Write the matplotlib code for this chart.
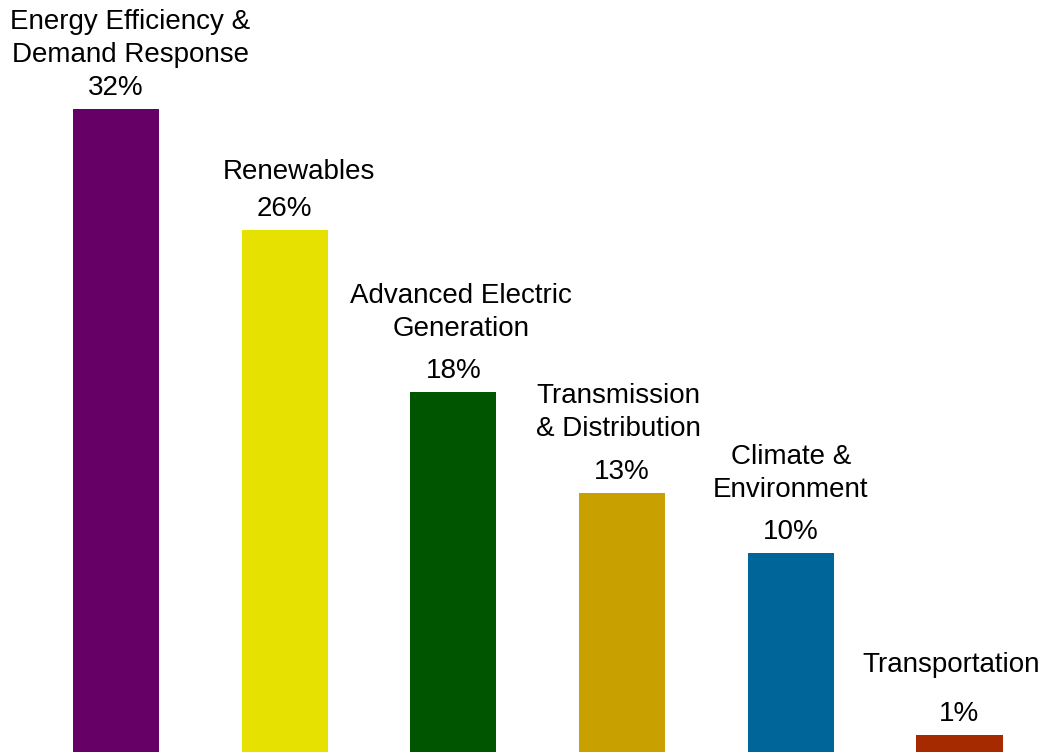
import matplotlib.pyplot as plt

plt.rcParams['font.family'] = ['Liberation Sans', 'DejaVu Sans']

categories = ['Energy Efficiency &\nDemand Response', 'Renewables',
              'Advanced Electric\nGeneration', 'Transmission\n& Distribution',
              'Climate &\nEnvironment', 'Transportation']
shares = [32, 26, 18, 13, 10, 1]
colors = ['#660066', '#E6E100', '#005500', '#C8A000', '#006699', '#A52A00']

# layout tweaks (pixels): gap between percent and category label, x nudge of category label
cat_gap = [33, 37, 42, 43, 42, 49]
cat_dx = [14, 14, 8, -4, 0, -8]


def main():
    fig = plt.figure(figsize=(10.44, 7.52), dpi=100)
    ax = fig.add_axes([0, 0, 1, 1])
    x = list(range(len(shares)))
    ax.bar(x, shares, width=0.51, color=colors)

    px = 72 / fig.dpi  # pixels -> points
    for i, (cat, v) in enumerate(zip(categories, shares)):
        ax.annotate(f'{v}%', (i, v), xytext=(0, 14 * px), textcoords='offset points',
                    ha='center', va='baseline', fontsize=20)
        ax.annotate(cat, (i, v), xytext=(cat_dx[i] * px, (14 + cat_gap[i]) * px),
                    textcoords='offset points', ha='center', va='baseline',
                    fontsize=20, linespacing=1.35)

    ax.set_xlim(-0.688, 5.501)
    ax.set_ylim(0.15, 37.4)
    ax.axis('off')
    fig.savefig('out.png', dpi=100)


if __name__ == '__main__':
    main()
